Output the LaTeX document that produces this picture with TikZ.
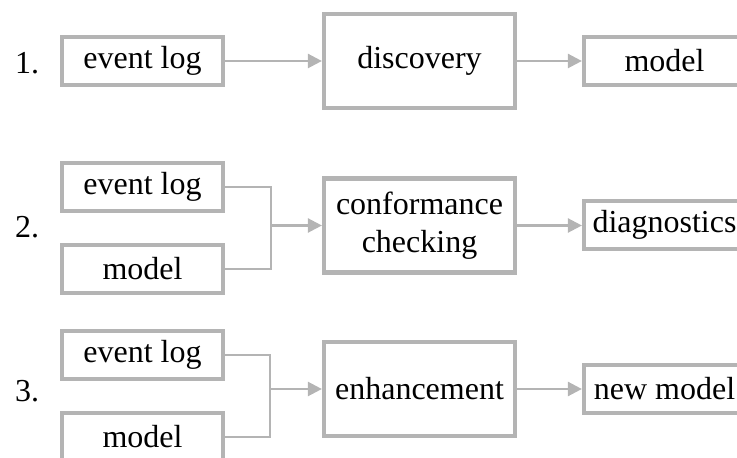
\documentclass[tikz,border=0pt]{standalone}
\usepackage{fontspec}
\setmainfont{Liberation Serif}
\usetikzlibrary{arrows.meta}
\definecolor{boxgray}{RGB}{180,180,180}

\begin{document}
\begin{tikzpicture}[x=0.5pt, y=-0.5pt,
    font=\fontsize{16pt}{19pt}\selectfont,
    databox/.style={draw=boxgray, line width=2.1pt, minimum width=80.5pt, minimum height=24pt, inner sep=0pt},
    stepbox/.style={databox, minimum width=95.5pt, minimum height=47pt, align=center},
    flow/.style={draw=boxgray, line width=1.2pt},
    >={Triangle[length=7pt, width=7pt]}]
    % Rahmen des Bildes
    \clip (0,0) rectangle (737,458);

    % 1. Discovery
    \node (n1) at (27, 63) {1.};
    \node[databox] (el1) at (142.5, 61) {event log};
    \node[stepbox] (di) at (419.5, 61) {discovery};
    \node[databox] (mo1) at (664.5, 61) {model};
    \draw[flow, ->] (el1) -- (di);
    \draw[flow, ->] (di) -- (mo1);

    % 2. Conformance checking
    \node (n2) at (27, 227) {2.};
    \node[databox] (el2) at (142.5, 187) {event log};
    \node[databox] (mo2) at (142.5, 269) {model};
    \node[stepbox] (cc) at (419.5, 225.5) {conformance\\checking};
    \node[databox] (dg) at (664.5, 225) {diagnostics};
    \coordinate (j2) at (271, 225.5);
    \draw[flow] (el2.east) -| (j2);
    \draw[flow] (mo2.east) -| (j2);
    \draw[flow, ->] (j2) -- (cc.west);
    \draw[flow, ->] (cc.east) -- (dg.west |- cc.east);

    % 3. Enhancement
    \node (n3) at (27, 391) {3.};
    \node[databox] (el3) at (142.5, 355) {event log};
    \node[databox] (mo3) at (142.5, 437) {model};
    \node[stepbox] (en) at (419.5, 389) {enhancement};
    \node[databox] (nm) at (664.5, 389) {new model};
    \coordinate (j3) at (270, 389);
    \draw[flow] (el3.east) -| (j3);
    \draw[flow] (mo3.east) -| (j3);
    \draw[flow, ->] (j3) -- (en.west);
    \draw[flow, ->] (en) -- (nm);
\end{tikzpicture}
\end{document}
